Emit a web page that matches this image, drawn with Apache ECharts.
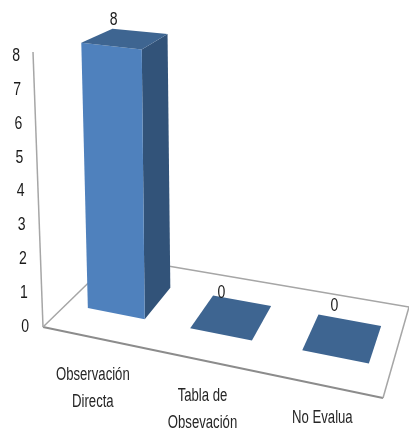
<!DOCTYPE html>
<html>
<head>
<meta charset="utf-8">
<style>html,body{margin:0;padding:0;background:#fff}#c{width:409px;height:432px}</style>
<script src="https://cdn.jsdelivr.net/npm/echarts@6/dist/echarts.min.js"></script>
</head>
<body>
<div id="c"></div>
<script>
var categories = ['Observación\nDirecta', 'Tabla de\nObsevación', 'No Evalua'];
var values = [8, 0, 0];
var yTicks = [0, 1, 2, 3, 4, 5, 6, 7, 8];

var FONT = '"Liberation Sans",sans-serif';
var chart = echarts.init(document.getElementById('c'), null, {renderer: 'canvas'});

// Pseudo-3D floor, expressed relative to the plot area origin
var floor = {fl: [0, 0], fr: [340, 71], br: [366, -20], bl: [72, -70]};
function origin(params) {
  var cs = params.coordSys;
  return [cs.x, cs.y + cs.height];
}
function floorPoint(params, a, b) {
  var o = origin(params);
  var fx = (1 - a) * floor.fl[0] + a * floor.fr[0], fy = (1 - a) * floor.fl[1] + a * floor.fr[1];
  var bx = (1 - a) * floor.bl[0] + a * floor.br[0], by = (1 - a) * floor.bl[1] + a * floor.br[1];
  return [o[0] + (1 - b) * fx + b * bx, o[1] + (1 - b) * fy + b * by];
}
// Lift a floor point to a value using the value axis scale
function lift(params, api, p, a, b, value) {
  var rise = (api.coord([0, 0])[1] - api.coord([0, value])[1]) * (1.019 + 0.095 * a - 0.14 * b);
  var lean = Math.max(0.011, 0.036 - 0.00025 * (p[0] - origin(params)[0]));
  return [p[0] - lean * rise, p[1] - rise];
}
function bandT(params, api, idx) {
  var cs = params.coordSys;
  return (api.coord([idx, 0])[0] - cs.x) / cs.width;
}
function poly(points, fill) {
  return {type: 'polygon', shape: {points: points}, style: {fill: fill, stroke: null}};
}
function narrowText(text, x, y, size, sx, align, vAlign, fill, lineHeight) {
  return {type: 'text', x: x, y: y, scaleX: sx, style: {
    text: text, x: 0, y: 0, align: align, verticalAlign: vAlign,
    font: size + 'px ' + FONT, lineHeight: lineHeight, fill: fill
  }};
}

function renderFrame(params, api) {
  var c = function (a, b) { return floorPoint(params, a, b); };
  var lineSoft = '#a6a6a6', lineHard = '#8c8c8c';
  var base = origin(params);
  var top = api.coord([0, yTicks[yTicks.length - 1]]);
  function seg(p, q, col, w) {
    return {type: 'line', shape: {x1: p[0], y1: p[1], x2: q[0], y2: q[1]}, style: {stroke: col, lineWidth: w}};
  }
  var children = [
    seg(c(0, 0), c(1, 0), lineHard, 2),
    seg(c(1, 0), c(1, 1), lineSoft, 1.5),
    seg(c(1, 1), c(0, 1), lineSoft, 1.5),
    seg(c(0, 1), c(0, 0), lineSoft, 1.5),
    seg(base, [base[0] - 10, top[1] - 4], lineSoft, 1.5)
  ];
  yTicks.forEach(function (v) {
    var y = api.coord([0, v])[1];
    children.push(narrowText(String(v), base[0] - 14 - v * 9 / 8, y, 18, 0.78, 'right', 'middle', '#1a1a1a'));
  });
  return {type: 'group', children: children};
}

function renderBar(params, api) {
  var idx = api.value(0), val = api.value(1);
  var t = bandT(params, api, idx);
  var mid = 0.475 + 1.0125 * (t - 0.5) + 0.135 * (t - 0.5) * (t - 0.5);
  var hw = 0.0838 + 0.0225 * t, b0 = 0.33, b1 = 0.75;
  var corners = [[mid - hw, b0], [mid + hw, b0], [mid + hw, b1], [mid - hw, b1]];
  var bottom = corners.map(function (k) { return floorPoint(params, k[0], k[1]); });
  var upper = corners.map(function (k, i) { return lift(params, api, bottom[i], k[0], k[1], val); });
  var children = [];
  if (val > 0) {
    children.push(poly([bottom[1], bottom[2], upper[2], upper[1]], '#325379'));
    children.push(poly([bottom[0], bottom[1], upper[1], upper[0]], '#4f81bd'));
  }
  children.push(poly(upper, '#3e6591'));
  var labelDrop = 60 * (mid - 0.1525) * (0.8275 - mid);
  children.push(narrowText(String(val), upper[3][0] + 1 + (mid - 0.1475) * 22, upper[3][1] - 9 + labelDrop, 18, 0.78, 'center', 'middle', '#1a1a1a'));
  var lab = floorPoint(params, mid, 0);
  children.push(narrowText(categories[idx], lab[0] - 2, lab[1] + 25 - 7.5 * mid, 18, 0.73, 'center', 'top', '#262626', 27));
  return {type: 'group', children: children};
}

chart.setOption({
  animation: false,
  grid: {left: 43, right: 26, top: 56, bottom: 105},
  tooltip: {show: false},
  xAxis: {type: 'category', data: categories, show: false, boundaryGap: true},
  yAxis: {
    type: 'value', min: 0, max: 8, interval: 1,
    axisLine: {show: false}, axisTick: {show: false}, splitLine: {show: false},
    axisLabel: {show: false}
  },
  series: [
    {type: 'custom', name: 'frame', silent: true, clip: false, z: 1,
     renderItem: renderFrame, data: [[0, 0]], encode: {x: 0, y: 1}},
    {type: 'custom', name: 'Evaluación', silent: true, clip: false, z: 2,
     renderItem: renderBar,
     data: values.map(function (v, i) { return [i, v]; }), encode: {x: 0, y: 1}}
  ]
});
</script>
</body>
</html>
